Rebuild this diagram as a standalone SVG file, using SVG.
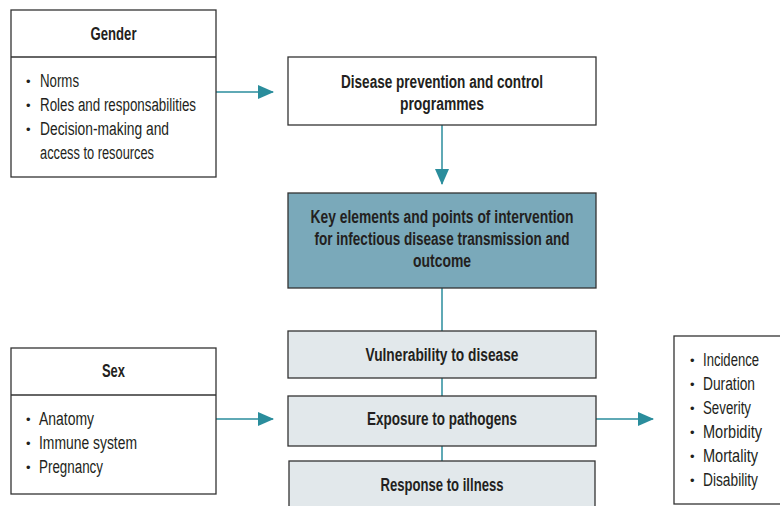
<svg xmlns="http://www.w3.org/2000/svg" width="780" height="506" viewBox="0 0 780 506">
<defs>
<style>
.box{fill:#fff;stroke:#333;stroke-width:1.3}
.key{fill:#7aa9ba;stroke:#333;stroke-width:1.3}
.lt{fill:#e2e8eb;stroke:#333;stroke-width:1.3}
.t{font-family:"Liberation Sans",Arial,sans-serif;font-size:18px;fill:#231f20}
.b{font-weight:bold;text-anchor:middle}
.d{font-family:"Liberation Sans",Arial,sans-serif;font-size:13px;fill:#231f20}
.c{stroke:#2a8d9c;stroke-width:1.5;fill:none}
</style>
<marker id="ah" markerWidth="16" markerHeight="14" refX="15" refY="7" orient="auto" markerUnits="userSpaceOnUse">
<path d="M0,0 L16,7 L0,14 Z" fill="#2a8d9c"/>
</marker>
</defs>
<g id="connectors">
<line class="c" x1="216" y1="92" x2="273" y2="92" marker-end="url(#ah)"/>
<line class="c" x1="442" y1="125" x2="442" y2="184" marker-end="url(#ah)"/>
<line class="c" x1="442" y1="288" x2="442" y2="331"/>
<line class="c" x1="442" y1="378" x2="442" y2="396"/>
<line class="c" x1="442" y1="446" x2="442" y2="461"/>
<line class="c" x1="216" y1="419" x2="273" y2="419" marker-end="url(#ah)"/>
<line class="c" x1="596" y1="419" x2="653" y2="419" marker-end="url(#ah)"/>
</g>
<g id="gender">
<rect class="box" x="11" y="10" width="205" height="167"/>
<line x1="11" y1="57" x2="216" y2="57" stroke="#333" stroke-width="1.3"/>
<text class="t b" x="113.5" y="40" textLength="46" lengthAdjust="spacingAndGlyphs">Gender</text>
<text class="d" x="26" y="86">•</text><text class="t" x="40" y="87" textLength="39" lengthAdjust="spacingAndGlyphs">Norms</text>
<text class="d" x="26" y="110">•</text><text class="t" x="40" y="111" textLength="156" lengthAdjust="spacingAndGlyphs">Roles and responsabilities</text>
<text class="d" x="26" y="134">•</text><text class="t" x="40" y="135" textLength="129" lengthAdjust="spacingAndGlyphs">Decision-making and</text>
<text class="t" x="40" y="159" textLength="114" lengthAdjust="spacingAndGlyphs">access to resources</text>
</g>
<g id="prevention">
<rect class="box" x="288" y="57" width="308" height="68"/>
<text class="t b" x="442" y="88" textLength="202" lengthAdjust="spacingAndGlyphs">Disease prevention and control</text>
<text class="t b" x="442" y="110" textLength="84" lengthAdjust="spacingAndGlyphs">programmes</text>
</g>
<g id="key">
<rect class="key" x="288" y="193" width="308" height="95"/>
<text class="t b" x="442" y="223" textLength="263" lengthAdjust="spacingAndGlyphs">Key elements and points of intervention</text>
<text class="t b" x="442" y="245" textLength="255" lengthAdjust="spacingAndGlyphs">for infectious disease transmission and</text>
<text class="t b" x="442" y="267" textLength="58" lengthAdjust="spacingAndGlyphs">outcome</text>
</g>
<g id="vulnerability">
<rect class="lt" x="288" y="331" width="308" height="47"/>
<text class="t b" x="442" y="361" textLength="153" lengthAdjust="spacingAndGlyphs">Vulnerability to disease</text>
</g>
<g id="exposure">
<rect class="lt" x="288" y="396" width="308" height="50"/>
<text class="t b" x="442" y="425" textLength="150" lengthAdjust="spacingAndGlyphs">Exposure to pathogens</text>
</g>
<g id="response">
<rect class="lt" x="289" y="461" width="306" height="60"/>
<text class="t b" x="442" y="491" textLength="123" lengthAdjust="spacingAndGlyphs">Response to illness</text>
</g>
<g id="sex">
<rect class="box" x="11" y="348" width="205" height="146"/>
<line x1="11" y1="395" x2="216" y2="395" stroke="#333" stroke-width="1.3"/>
<text class="t b" x="113.5" y="377" textLength="23" lengthAdjust="spacingAndGlyphs">Sex</text>
<text class="d" x="26" y="424">•</text><text class="t" x="39" y="425" textLength="55" lengthAdjust="spacingAndGlyphs">Anatomy</text>
<text class="d" x="26" y="448">•</text><text class="t" x="39" y="449" textLength="98" lengthAdjust="spacingAndGlyphs">Immune system</text>
<text class="d" x="26" y="472">•</text><text class="t" x="39" y="473" textLength="64" lengthAdjust="spacingAndGlyphs">Pregnancy</text>
</g>
<g id="outcomes">
<rect class="box" x="674" y="336" width="110" height="168"/>
<text class="d" x="690" y="365">•</text><text class="t" x="703" y="366" textLength="56" lengthAdjust="spacingAndGlyphs">Incidence</text>
<text class="d" x="690" y="389">•</text><text class="t" x="703" y="390" textLength="52" lengthAdjust="spacingAndGlyphs">Duration</text>
<text class="d" x="690" y="413">•</text><text class="t" x="703" y="414" textLength="48" lengthAdjust="spacingAndGlyphs">Severity</text>
<text class="d" x="690" y="437">•</text><text class="t" x="703" y="438" textLength="59" lengthAdjust="spacingAndGlyphs">Morbidity</text>
<text class="d" x="690" y="461">•</text><text class="t" x="703" y="462" textLength="55" lengthAdjust="spacingAndGlyphs">Mortality</text>
<text class="d" x="690" y="485">•</text><text class="t" x="703" y="486" textLength="55" lengthAdjust="spacingAndGlyphs">Disability</text>
</g>
</svg>
